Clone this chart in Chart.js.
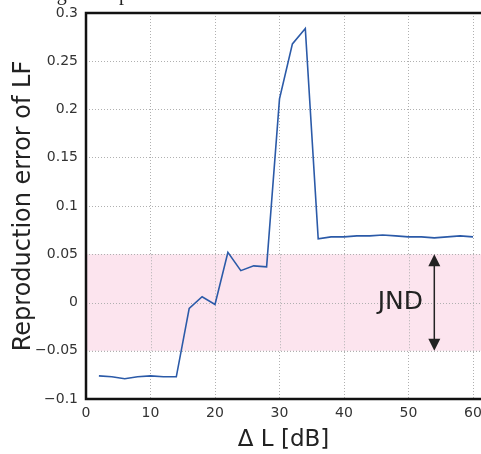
<!DOCTYPE html>
<html>
<head>
<meta charset="utf-8">
<script src="https://cdn.jsdelivr.net/npm/chart.js@4"></script>
<style>
  html, body { margin: 0; padding: 0; background: #fff; }
  #wrap { width: 481px; height: 454px; }
</style>
</head>
<body>
<div id="wrap"><canvas id="lfChart" width="481" height="454"></canvas></div>
<script>
// level difference [dB]
const deltaL = [2, 4, 6, 8, 10, 12, 14, 16, 18, 20, 22, 24, 26, 28, 30,
                32, 34, 36, 38, 40, 42, 44, 46, 48, 50, 52, 54, 56, 58, 60];
// reproduction error of LF
const lfError = [-0.076, -0.077, -0.079, -0.077, -0.076, -0.077, -0.077,
                 -0.006, 0.006, -0.002, 0.052, 0.033, 0.038, 0.037, 0.211,
                 0.268, 0.284, 0.066, 0.068, 0.068, 0.069, 0.069, 0.070,
                 0.069, 0.068, 0.068, 0.067, 0.068, 0.069, 0.068];
const xTicks = [0, 10, 20, 30, 40, 50, 60];
const yTicks = [-0.1, -0.05, 0, 0.05, 0.1, 0.15, 0.2, 0.25, 0.3];
const yTickLabels = ['\u22120.1', '\u22120.05', '0', '0.05', '0.1', '0.15', '0.2', '0.25', '0.3'];
// just noticeable difference band
const jndLow = -0.05;
const jndHigh = 0.05;
const jndArrowX = 54;

const FONT = '"DejaVu Sans", sans-serif';

const jndPlugin = {
  id: 'jnd',
  beforeDatasetsDraw(chart) {
    const { ctx, chartArea, scales: { x, y } } = chart;
    const top = y.getPixelForValue(jndHigh);
    const bot = y.getPixelForValue(jndLow);
    ctx.save();
    ctx.fillStyle = '#fce4ee';
    ctx.fillRect(chartArea.left, top, chartArea.right - chartArea.left, bot - top);
    // redraw dotted grid over the band
    ctx.strokeStyle = '#b0b0b0';
    ctx.lineWidth = 1;
    ctx.setLineDash([1, 2]);
    yTicks.forEach(v => {
      if (v < jndLow || v > jndHigh) return;
      const py = Math.round(y.getPixelForValue(v)) + 0.5;
      ctx.beginPath(); ctx.moveTo(chartArea.left, py); ctx.lineTo(chartArea.right, py); ctx.stroke();
    });
    xTicks.forEach(v => {
      if (v === 0) return;
      const px = Math.round(x.getPixelForValue(v)) + 0.5;
      ctx.beginPath(); ctx.moveTo(px, top); ctx.lineTo(px, bot); ctx.stroke();
    });
    ctx.restore();
  },
  afterDatasetsDraw(chart) {
    const { ctx, scales: { x, y } } = chart;
    const ax = x.getPixelForValue(jndArrowX);
    const top = y.getPixelForValue(jndHigh);
    const bot = y.getPixelForValue(jndLow);
    ctx.save();
    ctx.strokeStyle = '#222';
    ctx.fillStyle = '#222';
    ctx.lineWidth = 1.5;
    ctx.beginPath(); ctx.moveTo(ax, top + 10); ctx.lineTo(ax, bot - 10); ctx.stroke();
    ctx.beginPath(); ctx.moveTo(ax, top); ctx.lineTo(ax - 6, top + 12); ctx.lineTo(ax + 6, top + 12); ctx.closePath(); ctx.fill();
    ctx.beginPath(); ctx.moveTo(ax, bot); ctx.lineTo(ax - 6, bot - 12); ctx.lineTo(ax + 6, bot - 12); ctx.closePath(); ctx.fill();
    ctx.font = '25px ' + FONT;
    ctx.textAlign = 'center';
    ctx.textBaseline = 'middle';
    ctx.fillText('JND', ax - 34, y.getPixelForValue(0));
    // frame lines
    const ca = chart.chartArea;
    ctx.strokeStyle = '#111';
    ctx.lineWidth = 2.5;
    ctx.beginPath();
    ctx.moveTo(ca.right, ca.top); ctx.lineTo(ca.left, ca.top);
    ctx.lineTo(ca.left, ca.bottom); ctx.lineTo(ca.right, ca.bottom);
    ctx.stroke();
    // clipped caption at the very top
    ctx.font = '20px "Liberation Serif", serif';
    ctx.fillStyle = '#222';
    ctx.textAlign = 'left';
    ctx.textBaseline = 'alphabetic';
    ctx.fillText('Fig. 9  Reproduction error of LF at each level', 40, 0);
    ctx.restore();
  }
};

const ctx = document.getElementById('lfChart').getContext('2d');
new Chart(ctx, {
  type: 'line',
  data: {
    datasets: [{
      data: deltaL.map((v, i) => ({ x: v, y: lfError[i] })),
      borderColor: '#2b5aa8',
      borderWidth: 1.6,
      pointRadius: 0,
      tension: 0,
      fill: false
    }]
  },
  options: {
    responsive: false,
    animation: false,
    layout: { padding: { top: 13, right: 0, left: 0, bottom: 0 } },
    plugins: { legend: { display: false }, tooltip: { enabled: false } },
    scales: {
      x: {
        type: 'linear',
        min: 0,
        max: 61.24,
        afterBuildTicks: s => { s.ticks = xTicks.map(v => ({ value: v })); },
        afterFit: s => { s.height = 55; s.paddingLeft = 0; s.paddingRight = 0; },
        border: { display: false, dash: [1, 2] },
        grid: { color: '#b0b0b0', lineWidth: 1, drawTicks: false },
        ticks: { color: '#333', font: { family: FONT, size: 14 }, padding: 6, maxRotation: 0 },
        title: { display: true, text: '\u0394 L [dB]', color: '#222', font: { family: FONT, size: 23 }, padding: { top: 0, bottom: 0 } }
      },
      y: {
        min: -0.1,
        max: 0.3,
        afterBuildTicks: s => { s.ticks = yTicks.map(v => ({ value: v })); },
        afterFit: s => { s.width = 86; s.paddingTop = 0; s.paddingBottom = 0; },
        border: { display: false, dash: [1, 2] },
        grid: { color: '#b0b0b0', lineWidth: 1, drawTicks: false },
        ticks: {
          color: '#333', font: { family: FONT, size: 14 }, padding: 8,
          callback: (v, i) => yTickLabels[i]
        },
        title: { display: true, text: 'Reproduction error of LF', color: '#222', font: { family: FONT, size: 24 }, padding: { top: 9, bottom: 0 } }
      }
    }
  },
  plugins: [jndPlugin]
});
</script>
</body>
</html>
